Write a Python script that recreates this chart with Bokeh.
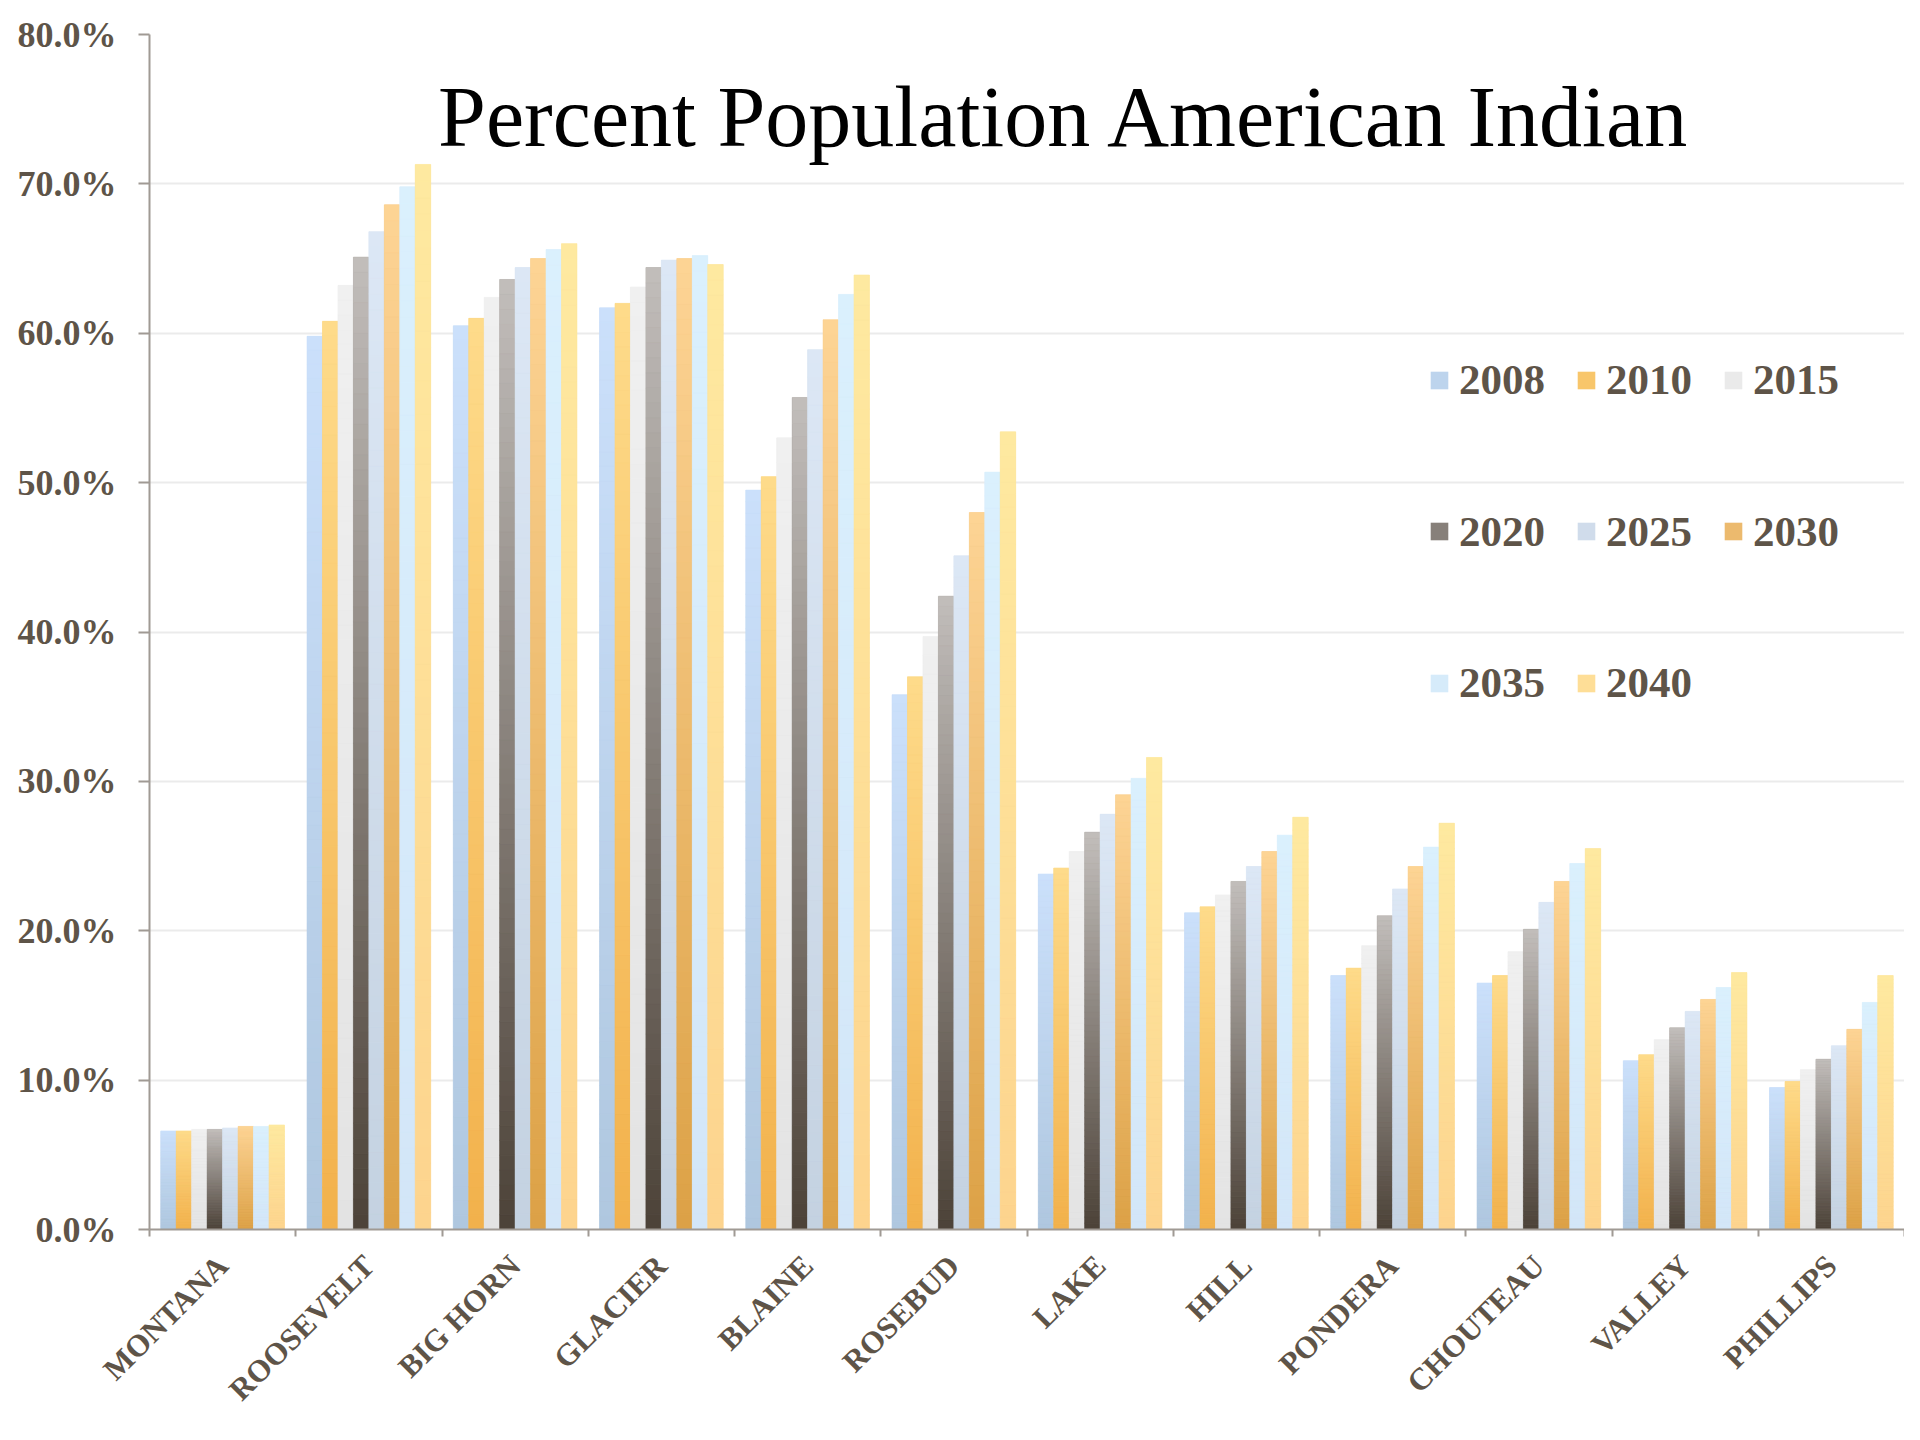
import numpy as np
from bokeh.plotting import figure
from bokeh.models import Range1d, FixedTicker, PrintfTickFormatter, Label, Legend, LegendItem
from bokeh.embed import file_html
from bokeh.resources import INLINE

# ---------------- data ----------------
counties = ["MONTANA", "ROOSEVELT", "BIG HORN", "GLACIER", "BLAINE", "ROSEBUD",
            "LAKE", "HILL", "PONDERA", "CHOUTEAU", "VALLEY", "PHILLIPS"]
years = ["2008", "2010", "2015", "2020", "2025", "2030", "2035", "2040"]

pct_2008 = [6.6, 59.8, 60.5, 61.7, 49.5, 35.8, 23.8, 21.2, 17.0, 16.5, 11.3, 9.5]
pct_2010 = [6.6, 60.8, 61.0, 62.0, 50.4, 37.0, 24.2, 21.6, 17.5, 17.0, 11.7, 9.9]
pct_2015 = [6.7, 63.2, 62.4, 63.1, 53.0, 39.7, 25.3, 22.4, 19.0, 18.6, 12.7, 10.7]
pct_2020 = [6.7, 65.1, 63.6, 64.4, 55.7, 42.4, 26.6, 23.3, 21.0, 20.1, 13.5, 11.4]
pct_2025 = [6.8, 66.8, 64.4, 64.9, 58.9, 45.1, 27.8, 24.3, 22.8, 21.9, 14.6, 12.3]
pct_2030 = [6.9, 68.6, 65.0, 65.0, 60.9, 48.0, 29.1, 25.3, 24.3, 23.3, 15.4, 13.4]
pct_2035 = [6.9, 69.8, 65.6, 65.2, 62.6, 50.7, 30.2, 26.4, 25.6, 24.5, 16.2, 15.2]
pct_2040 = [7.0, 71.3, 66.0, 64.6, 63.9, 53.4, 31.6, 27.6, 27.2, 25.5, 17.2, 17.0]
series = [pct_2008, pct_2010, pct_2015, pct_2020, pct_2025, pct_2030, pct_2035, pct_2040]

y_ticks = [0, 10, 20, 30, 40, 50, 60, 70, 80]

# ---------------- style ----------------
top_colors = ["#cbe0fb", "#fedb8a", "#f0f0f0", "#c2bebb", "#dce7f5", "#fdd495", "#daf0fd", "#fee9a0"]
bottom_colors = ["#afc7df", "#f2b14c", "#e3e3e3", "#4c4238", "#c4d2e1", "#dca146", "#d3e6f8", "#fdd48e"]
TXT = "#5e5448"
AXIS = "#a09a94"
FONT = "Liberation Serif"
BAR_W = 0.1057
N_SEG = 64


def hex2rgb(h):
    h = h.lstrip("#")
    return tuple(int(h[i:i + 2], 16) for i in (0, 2, 4))


def lerp(c1, c2, t):
    a, b = hex2rgb(c1), hex2rgb(c2)
    return "#%02x%02x%02x" % tuple(int(round(a[i] + (b[i] - a[i]) * t)) for i in range(3))


p = figure(width=1904, height=1424, output_backend="svg", toolbar_location=None,
           x_range=Range1d(0, len(counties)), y_range=Range1d(0, 80),
           min_border_left=149, min_border_right=0, min_border_top=34, min_border_bottom=195)
p.outline_line_color = None
p.background_fill_color = "white"
p.border_fill_color = "white"

# grid
p.xgrid.grid_line_color = None
p.ygrid.grid_line_color = "#ebebeb"
p.ygrid.grid_line_width = 2

# bars (each bar drawn once, then a vertical gradient overlay)
base_renderers = []
for k, vals in enumerate(series):
    xs = [i + 0.5 + (k - 3.5) * BAR_W for i in range(len(counties))]
    mid = lerp(bottom_colors[k], top_colors[k], 0.5)
    r = p.vbar(x=xs, top=vals, bottom=0, width=BAR_W, fill_color=mid, line_color=None)
    base_renderers.append(r)
    sx, sb, st, sc = [], [], [], []
    for x, v in zip(xs, vals):
        for j in range(N_SEG):
            sx.append(x)
            sb.append(v * j / N_SEG)
            st.append(v * (j + 1) / N_SEG)
            sc.append(lerp(bottom_colors[k], top_colors[k], (j + 0.5) / N_SEG))
    p.vbar(x=sx, bottom=sb, top=st, width=BAR_W, fill_color=sc, line_color=sc, line_width=0.6)

# y axis
p.yaxis.ticker = FixedTicker(ticks=y_ticks, minor_ticks=[])
p.yaxis.formatter = PrintfTickFormatter(format="%.1f%%")
p.yaxis.axis_line_color = AXIS
p.yaxis.axis_line_width = 2
p.yaxis.major_tick_line_color = AXIS
p.yaxis.major_tick_line_width = 2
p.yaxis.major_tick_out = 11
p.yaxis.major_tick_in = 0
p.yaxis.minor_tick_line_color = None
p.yaxis.major_label_standoff = 22
p.yaxis.major_label_text_font = FONT
p.yaxis.major_label_text_font_style = "bold"
p.yaxis.major_label_text_font_size = "36px"
p.yaxis.major_label_text_color = TXT

# x axis
centers = [i + 0.5 for i in range(len(counties))]
p.xaxis.ticker = FixedTicker(ticks=centers, minor_ticks=list(range(len(counties) + 1)))
p.xaxis.major_label_overrides = {c: name for c, name in zip(centers, counties)}
p.xaxis.axis_line_color = AXIS
p.xaxis.axis_line_width = 2
p.xaxis.major_tick_out = 0
p.xaxis.major_tick_in = 0
p.xaxis.major_tick_line_color = None
p.xaxis.minor_tick_out = 7
p.xaxis.minor_tick_in = 0
p.xaxis.minor_tick_line_color = AXIS
p.xaxis.minor_tick_line_width = 2
p.xaxis.major_label_orientation = np.pi / 4
p.xaxis.major_label_standoff = 24
p.xaxis.major_label_text_font = FONT
p.xaxis.major_label_text_font_style = "bold"
p.xaxis.major_label_text_font_size = "31px"
p.xaxis.major_label_text_color = TXT

# title inside the plot
p.add_layout(Label(x=6.26, y=74.5, text="Percent Population American Indian",
                   text_font=FONT, text_font_size="86px", text_color="black",
                   text_align="center", text_baseline="alphabetic"))

# legend: 3-column grid, one Legend per entry
FRAME_H = 1195
LEG_X0 = 1279
LEG_DX = 147
ROW0 = 345
ROW_DY = 151.5
H_EST = 50
for k, yr in enumerate(years):
    row, col = divmod(k, 3)
    leg = Legend(items=[LegendItem(label=yr, renderers=[base_renderers[k]])],
                 location=(LEG_X0 + col * LEG_DX, FRAME_H - (ROW0 + row * ROW_DY) - H_EST / 2),
                 glyph_width=22, glyph_height=22, label_standoff=9, padding=0, margin=0,
                 border_line_color=None, background_fill_alpha=0,
                 label_text_font=FONT, label_text_font_style="bold",
                 label_text_font_size="43px", label_text_color=TXT)
    p.add_layout(leg, "center")

open("out.html", "w").write(file_html(p, INLINE))
